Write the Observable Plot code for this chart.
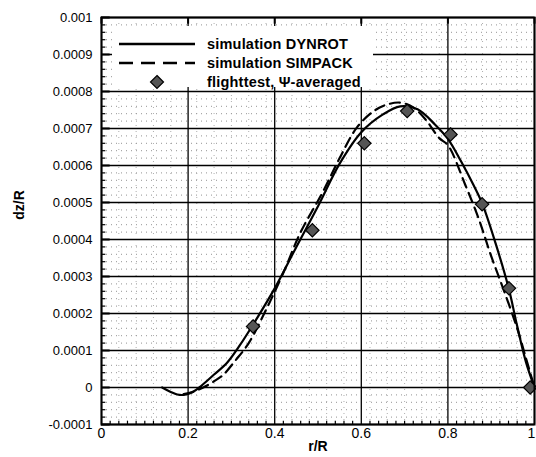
<!DOCTYPE html>
<html>
<head>
<meta charset="utf-8">
<script src="https://cdn.jsdelivr.net/npm/d3@7"></script>
<script src="https://cdn.jsdelivr.net/npm/@observablehq/plot@0.6"></script>
<style>
  html, body { margin: 0; padding: 0; background: #fff; }
  #wrap { position: relative; width: 536px; height: 457px; font-family: "Liberation Sans", Arial, Helvetica, sans-serif; }
  #legend { position: absolute; left: 112px; top: 26px; width: 261px; height: 61px; background: #fff; }
  .row { position: absolute; left: 0; height: 18px; display: flex; align-items: center; }
  .row svg { display: block; }
  .row span { font-weight: bold; font-size: 14.5px; letter-spacing: 0.2px; margin-left: 10px; white-space: nowrap; }
  #xtitle { position: absolute; left: 0; width: 536px; top: 438px; text-align: center; padding-left: 100px; box-sizing: border-box; font-weight: bold; font-size: 14px; }
  #ytitle { position: absolute; left: 19px; top: 205px; transform: translate(-50%, -50%) rotate(-90deg); font-weight: bold; font-size: 14px; white-space: nowrap; }
</style>
</head>
<body>
<div id="wrap"></div>
<script>
// ---- data ----
const dynR = [0.14, 0.16, 0.175, 0.19, 0.21, 0.23, 0.26, 0.29, 0.32, 0.35, 0.40, 0.45, 0.50, 0.55, 0.60, 0.65, 0.69, 0.73, 0.77, 0.80, 0.83, 0.86, 0.88, 0.91, 0.94, 0.96, 0.98, 1.0];
const dynV = [0, -0.000012, -0.000019, -0.00002, -0.000013, 0.000004, 0.000035, 0.000067, 0.000115, 0.00017, 0.000268, 0.00038, 0.00049, 0.000605, 0.00069, 0.000738, 0.00076, 0.000752, 0.000711, 0.000672, 0.000612, 0.000545, 0.000495, 0.00039, 0.00027, 0.000166, 0.00007, 0];
const simR = [0.19, 0.21, 0.235, 0.26, 0.28, 0.31, 0.34, 0.38, 0.42, 0.46, 0.51, 0.55, 0.59, 0.63, 0.66, 0.69, 0.72, 0.75, 0.78, 0.80, 0.84, 0.87, 0.90, 0.93, 0.96, 0.98, 1.0];
const simV = [-0.000018, -0.000012, 0, 0.000017, 0.000033, 0.000074, 0.00012, 0.00021, 0.00031, 0.00042, 0.000526, 0.00062, 0.000703, 0.000748, 0.000765, 0.00077, 0.000757, 0.000722, 0.000674, 0.000655, 0.000548, 0.00046, 0.000355, 0.00026, 0.00016, 0.00008, 0];
const fltR = [0.35, 0.487, 0.607, 0.706, 0.806, 0.879, 0.941, 0.99];
const fltV = [0.000165, 0.000425, 0.00066, 0.000747, 0.000684, 0.000495, 0.000268, 0];
const seriesNames = ["simulation DYNROT", "simulation SIMPACK", "flighttest, \u03A8-averaged"];
const xTicks = [0, 0.2, 0.4, 0.6, 0.8, 1];
const xTickLabels = ["0", "0.2", "0.4", "0.6", "0.8", "1"];
const yTicks = [-0.0001, 0, 0.0001, 0.0002, 0.0003, 0.0004, 0.0005, 0.0006, 0.0007, 0.0008, 0.0009, 0.001];
const yTickLabels = ["-0.0001", "0", "0.0001", "0.0002", "0.0003", "0.0004", "0.0005", "0.0006", "0.0007", "0.0008", "0.0009", "0.001"];
const xMinor = d3.range(0, 51).map(i => i * 0.02).filter(v => Math.abs(v * 5 - Math.round(v * 5)) > 1e-9);
const yMinor = d3.range(-5, 51).map(i => i * 0.00002).filter(v => Math.abs(v * 10000 - Math.round(v * 10000)) > 1e-9);
const xLabel = "r/R";
const yLabel = "dz/R";

const dyn = dynR.map((r, i) => ({r, v: dynV[i]}));
const sim = simR.map((r, i) => ({r, v: simV[i]}));
const flt = fltR.map((r, i) => ({r, v: fltV[i]}));

// inner tick lengths in data units
const yTickLenMajor = 0.02, yTickLenMinor = 0.01;
const xTickLenMajor = 0.000018, xTickLenMinor = 0.000009;

const chart = Plot.plot({
  width: 536, height: 457,
  marginLeft: 101, marginRight: 2, marginTop: 17, marginBottom: 33,
  x: {domain: [0, 1]},
  y: {domain: [-0.0001, 0.001]},
  style: {fontFamily: "'Liberation Sans', Arial, sans-serif", fontSize: "13px", color: "#000", background: "#fff"},
  marks: [
    Plot.ruleY(yMinor, {y: d => d, stroke: "#777", strokeWidth: 0.8, strokeDasharray: "1,4"}),
    Plot.ruleX(xMinor.filter((d, i) => i % 2 === 1), {x: d => d, stroke: "#999", strokeWidth: 0.8, strokeDasharray: "1,5"}),
    Plot.ruleY(yTicks, {y: d => d, stroke: "#000", strokeWidth: 1.3}),
    Plot.ruleX(xTicks, {x: d => d, stroke: "#000", strokeWidth: 1.3}),
    // inner ticks (left, bottom, top)
    Plot.ruleY(yMinor, {y: d => d, x1: 0, x2: yTickLenMinor, stroke: "#000", strokeWidth: 1.2}),
    Plot.ruleY(yTicks, {y: d => d, x1: 0, x2: yTickLenMajor, stroke: "#000", strokeWidth: 2}),
    Plot.ruleX(xMinor, {x: d => d, y1: -0.0001, y2: -0.0001 + xTickLenMinor, stroke: "#000", strokeWidth: 1.2}),
    Plot.ruleX(xTicks, {x: d => d, y1: 0.001, y2: 0.001 - xTickLenMajor, stroke: "#000", strokeWidth: 2}),
    Plot.line(dyn, {x: "r", y: "v", curve: "catmull-rom", stroke: "#000", strokeWidth: 2.2}),
    Plot.line(sim, {x: "r", y: "v", curve: "catmull-rom", stroke: "#000", strokeWidth: 2.2, strokeDasharray: "10,6"}),
    Plot.dot(flt, {x: "r", y: "v", symbol: "diamond2", r: 6, fill: "#555", stroke: "#000", strokeWidth: 1.2}),
    Plot.frame({stroke: "#000", strokeWidth: 2}),
    Plot.axisX(xTicks.slice(0, -1), {tickSize: 0, tickPadding: 4, tickFormat: (d, i) => xTickLabels[i], label: null, fontSize: 14}),
    Plot.axisX(xTicks.slice(-1), {tickSize: 0, tickPadding: 4, tickFormat: () => xTickLabels[xTickLabels.length - 1], label: null, fontSize: 14, dx: -3}),
    Plot.axisY(yTicks, {tickSize: 0, tickPadding: 9, tickFormat: (d, i) => yTickLabels[i], label: null, fontSize: 13})
  ]
});

const wrap = document.getElementById("wrap");
wrap.appendChild(chart);

// legend
const legend = document.createElement("div");
legend.id = "legend";
const rows = [
  `<svg width="80" height="18"><line x1="2" y1="9" x2="78" y2="9" stroke="#000" stroke-width="2.5"/></svg>`,
  `<svg width="80" height="18"><line x1="2" y1="9" x2="78" y2="9" stroke="#000" stroke-width="2.5" stroke-dasharray="14,8"/></svg>`,
  `<svg width="80" height="18"><path d="M40,2.5 L46.5,9 L40,15.5 L33.5,9 Z" fill="#555" stroke="#000" stroke-width="1.2"/></svg>`
];
const tops = [9, 28, 47];
seriesNames.forEach((name, i) => {
  const row = document.createElement("div");
  row.className = "row";
  row.style.top = tops[i] + "px";
  row.style.left = "5px";
  row.innerHTML = rows[i] + `<span>${name}</span>`;
  legend.appendChild(row);
});
wrap.appendChild(legend);

const xt = document.createElement("div");
xt.id = "xtitle"; xt.textContent = xLabel;
wrap.appendChild(xt);
const yt = document.createElement("div");
yt.id = "ytitle"; yt.textContent = yLabel;
wrap.appendChild(yt);
</script>
</body>
</html>
